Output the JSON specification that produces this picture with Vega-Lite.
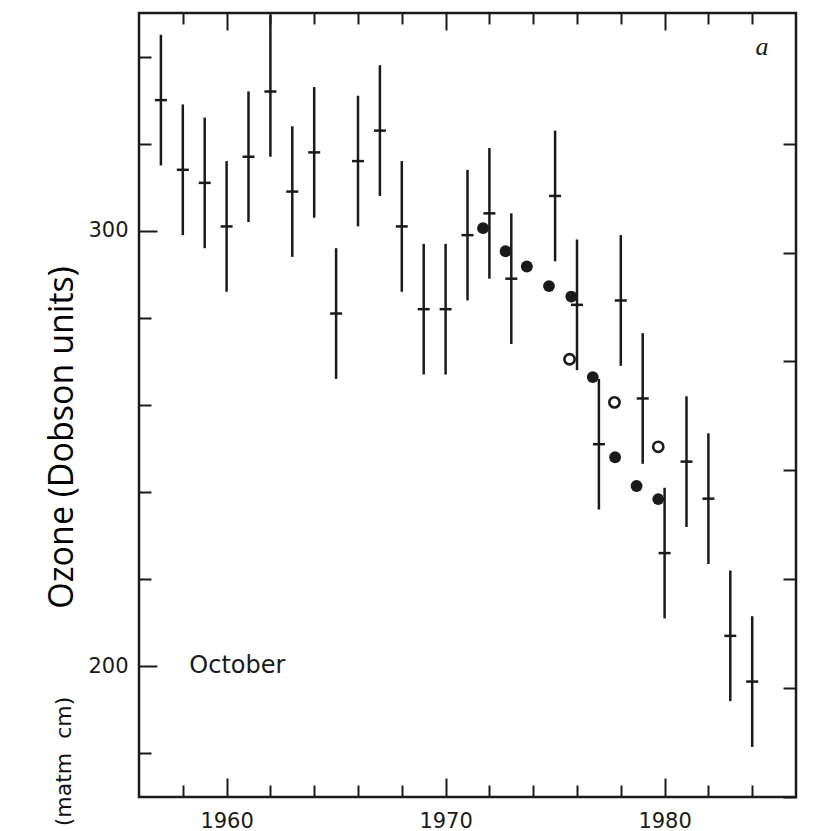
{
  "$schema": "https://vega.github.io/schema/vega-lite/v6.json",
  "width": 657,
  "height": 784,
  "autosize": "none",
  "padding": {"left": 139, "top": 13, "right": 17, "bottom": 34},
  "background": "white",
  "config": {
    "view": {"stroke": "#1a1a1a", "strokeWidth": 2.5},
    "axis": {
      "domain": false,
      "grid": false,
      "tickColor": "#1a1a1a",
      "tickWidth": 2,
      "labelFont": "DejaVu Sans",
      "labelFontSize": 21,
      "labelColor": "#222222",
      "title": null
    }
  },
  "datasets": {
    "bars": [
      {"year": 1957, "val": 330, "lo": 315, "hi": 345},
      {"year": 1958, "val": 314, "lo": 299, "hi": 329},
      {"year": 1959, "val": 311, "lo": 296, "hi": 326},
      {"year": 1960, "val": 301, "lo": 286, "hi": 316},
      {"year": 1961, "val": 317, "lo": 302, "hi": 332},
      {"year": 1962, "val": 332, "lo": 317, "hi": 349.5},
      {"year": 1963, "val": 309, "lo": 294, "hi": 324},
      {"year": 1964, "val": 318, "lo": 303, "hi": 333},
      {"year": 1965, "val": 281, "lo": 266, "hi": 296},
      {"year": 1966, "val": 316, "lo": 301, "hi": 331},
      {"year": 1967, "val": 323, "lo": 308, "hi": 338},
      {"year": 1968, "val": 301, "lo": 286, "hi": 316},
      {"year": 1969, "val": 282, "lo": 267, "hi": 297},
      {"year": 1970, "val": 282, "lo": 267, "hi": 297},
      {"year": 1971, "val": 299, "lo": 284, "hi": 314},
      {"year": 1972, "val": 304, "lo": 289, "hi": 319},
      {"year": 1973, "val": 289, "lo": 274, "hi": 304},
      {"year": 1975, "val": 308, "lo": 293, "hi": 323},
      {"year": 1976, "val": 283, "lo": 268, "hi": 298},
      {"year": 1977, "val": 251, "lo": 236, "hi": 266},
      {"year": 1978, "val": 284, "lo": 269, "hi": 299},
      {"year": 1979, "val": 261.5, "lo": 246.5, "hi": 276.5},
      {"year": 1980, "val": 226, "lo": 211, "hi": 241},
      {"year": 1981, "val": 247, "lo": 232, "hi": 262},
      {"year": 1982, "val": 238.5, "lo": 223.5, "hi": 253.5},
      {"year": 1983, "val": 207, "lo": 192, "hi": 222},
      {"year": 1984, "val": 196.5, "lo": 181.5, "hi": 211.5}
    ],
    "filled": [
      {"year": 1971.71, "val": 300.6},
      {"year": 1972.74, "val": 295.3},
      {"year": 1973.71, "val": 291.8},
      {"year": 1974.72, "val": 287.3},
      {"year": 1975.74, "val": 284.9},
      {"year": 1976.72, "val": 266.4},
      {"year": 1977.74, "val": 248.0},
      {"year": 1978.72, "val": 241.4},
      {"year": 1979.71, "val": 238.4}
    ],
    "open": [
      {"year": 1975.66, "val": 270.5},
      {"year": 1977.71, "val": 260.6},
      {"year": 1979.71, "val": 250.4}
    ],
    "notes": [
      {"year": 1958.3, "val": 200, "label": "October", "kind": "month"},
      {"year": 1984.45, "val": 342.3, "label": "a", "kind": "panel"}
    ]
  },
  "layer": [
    {
      "data": {"name": "bars"},
      "mark": {"type": "rule", "strokeWidth": 2.5, "color": "#1a1a1a"},
      "encoding": {
        "x": {
          "field": "year", "type": "quantitative",
          "scale": {"domain": [1956, 1986], "nice": false, "zero": false},
          "axis": {"orient": "bottom", "values": [1958, 1962, 1964, 1966, 1968, 1972, 1974, 1976, 1978, 1982, 1984], "tickSize": -12, "labels": false}
        },
        "y": {
          "field": "lo", "type": "quantitative",
          "scale": {"domain": [170, 350], "nice": false, "zero": false},
          "axis": {
            "orient": "left", "values": [180, 220, 240, 260, 280, 320, 340], "tickSize": -12, "labels": false,
            "title": "Ozone (Dobson units)", "titleFont": "Open Sans", "titleFontSize": 34, "titleFontWeight": "normal",
            "titleColor": "#000000", "titleAngle": -90, "titleAlign": "center", "titleBaseline": "middle",
            "titleX": -77, "titleY": 424
          }
        },
        "y2": {"field": "hi"}
      }
    },
    {
      "data": {"name": "bars"},
      "mark": {"type": "tick", "orient": "horizontal", "size": 12, "thickness": 2.5, "color": "#1a1a1a", "opacity": 1},
      "encoding": {
        "x": {
          "field": "year", "type": "quantitative",
          "axis": {"orient": "bottom", "values": [1960, 1970, 1980], "format": "d", "tickSize": -19, "labelPadding": 32, "labelFont": "DejaVu Sans", "labelFontSize": 21, "labelColor": "#1a1a1a"}
        },
        "y": {
          "field": "val", "type": "quantitative",
          "axis": {
            "orient": "left", "values": [200, 300], "format": "d", "tickSize": -18, "labelPadding": 29, "labelFont": "DejaVu Sans", "labelFontSize": 21, "labelColor": "#1a1a1a",
            "title": "(matm\u00a0\u00a0cm)", "titleFont": "DejaVu Sans", "titleFontSize": 22, "titleFontWeight": "normal",
            "titleColor": "#111111", "titleAngle": -90, "titleAlign": "center", "titleBaseline": "middle",
            "titleX": -76, "titleY": 748
          }
        }
      }
    },
    {
      "data": {"name": "filled"},
      "mark": {"type": "circle", "size": 140, "color": "#1a1a1a", "opacity": 1},
      "encoding": {
        "x": {
          "field": "year", "type": "quantitative",
          "axis": {"orient": "top", "values": [1958, 1962, 1964, 1966, 1968, 1972, 1974, 1976, 1978, 1982, 1984], "tickSize": -11, "labels": false}
        },
        "y": {
          "field": "val", "type": "quantitative",
          "axis": {"orient": "right", "values": [170, 195, 220, 245, 270, 295, 320], "tickSize": -13, "labels": false}
        }
      }
    },
    {
      "data": {"name": "open"},
      "mark": {"type": "point", "shape": "circle", "size": 105, "filled": false, "stroke": "#1a1a1a", "strokeWidth": 2.6, "fill": "white", "opacity": 1},
      "encoding": {
        "x": {
          "field": "year", "type": "quantitative",
          "axis": {"orient": "top", "values": [1960, 1970, 1980], "tickSize": -17, "labels": false}
        },
        "y": {"field": "val", "type": "quantitative", "axis": null}
      }
    },
    {
      "data": {"name": "notes"},
      "transform": [{"filter": "datum.kind === 'month'"}],
      "mark": {"type": "text", "align": "left", "baseline": "middle", "font": "DejaVu Sans", "fontSize": 24, "color": "#1a1a1a"},
      "encoding": {
        "x": {"field": "year", "type": "quantitative", "axis": null},
        "y": {"field": "val", "type": "quantitative", "axis": null},
        "text": {"field": "label"}
      }
    },
    {
      "data": {"name": "notes"},
      "transform": [{"filter": "datum.kind === 'panel'"}],
      "mark": {"type": "text", "align": "center", "baseline": "middle", "font": "Liberation Serif", "fontStyle": "italic", "fontSize": 26, "color": "#1a1a1a"},
      "encoding": {
        "x": {"field": "year", "type": "quantitative", "axis": null},
        "y": {"field": "val", "type": "quantitative", "axis": null},
        "text": {"field": "label"}
      }
    }
  ],
  "resolve": {"axis": {"x": "independent", "y": "independent"}}
}
